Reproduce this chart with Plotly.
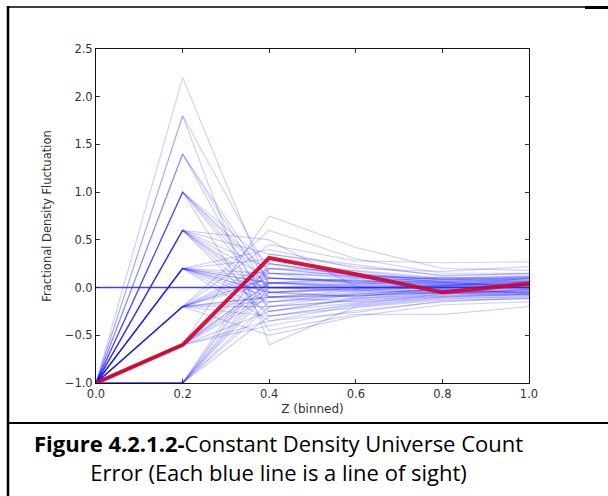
import plotly.graph_objects as go

# Redshift bins
z_bins = [0.0, 0.2, 0.4, 0.6, 0.8, 1.0]

# Fractional density fluctuation per line of sight, one list per bin
z00 = [-1.0] * 70
z02 = [-1.0] * 10 + [-0.6] * 12 + [-0.2] * 14 + [0.2] * 13 + [0.6] * 9 + [1.0] * 6 + [1.4] * 3 + [1.8] * 2 + [2.2]
z04 = [0.05, -0.15, 0.20, -0.30, 0.00, 0.25, -0.05, 0.10, -0.20, 0.35,
       -0.25, 0.05, 0.75, -0.40, 0.15, 0.30, -0.10, -0.05, 0.20, 0.05,
       -0.35, 0.00, 0.25, -0.15, 0.10, -0.10, 0.45, -0.20, 0.05, -0.10,
       0.15, -0.30, 0.60, 0.10, -0.50, 0.20, -0.05, 0.05, -0.15, 0.40,
       0.00, -0.10, 0.30, -0.25, 0.10, -0.05, 0.15, -0.35, 0.05, 0.00,
       -0.10, 0.20, -0.20, 0.10, -0.05, 0.35, -0.30, 0.50, 0.15, -0.45,
       0.00, 0.10, -0.10, 0.25, -0.05, 0.05, -0.25, 0.15, -0.60, 0.00]
z06 = [0.10, -0.06, 0.15, -0.18, 0.02, 0.12, -0.09, 0.05, -0.14, 0.22,
       -0.12, 0.00, 0.42, -0.24, 0.04, 0.17, -0.05, -0.10, 0.11, 0.01,
       -0.19, -0.02, 0.13, -0.08, 0.06, -0.15, 0.28, -0.07, 0.08, -0.03,
       0.15, -0.21, 0.30, 0.07, -0.30, 0.12, -0.01, 0.05, -0.11, 0.20,
       -0.04, -0.09, 0.14, -0.16, 0.06, 0.00, 0.10, -0.26, 0.03, -0.02,
       -0.07, 0.18, -0.13, 0.08, -0.03, 0.24, -0.17, 0.01, 0.11, -0.28,
       0.04, 0.07, -0.08, 0.13, -0.01, 0.02, -0.11, 0.12, -0.20, 0.00]
z08 = [0.04, -0.05, 0.08, -0.10, 0.01, 0.06, -0.03, 0.11, -0.07, 0.13,
       -0.06, 0.02, 0.20, -0.15, 0.05, 0.09, -0.03, 0.00, 0.06, -0.02,
       -0.11, 0.03, 0.10, -0.05, 0.02, -0.09, 0.26, -0.01, 0.05, -0.06,
       0.07, -0.13, 0.15, 0.03, -0.18, 0.09, -0.04, 0.01, -0.08, 0.17,
       0.02, -0.05, 0.06, -0.10, 0.04, -0.01, 0.05, -0.14, 0.08, 0.00,
       -0.02, 0.10, -0.09, 0.02, -0.04, 0.12, -0.07, 0.01, 0.06, -0.28,
       0.00, 0.05, -0.06, 0.08, -0.02, 0.03, -0.05, 0.09, -0.12, 0.01]
z10 = [0.03, -0.04, 0.06, -0.07, 0.10, 0.00, -0.05, 0.08, -0.02, 0.14,
       -0.08, 0.04, 0.18, -0.11, 0.05, 0.11, -0.01, 0.02, 0.09, -0.06,
       -0.10, 0.06, 0.12, -0.03, 0.00, -0.07, 0.27, 0.03, 0.07, -0.05,
       0.10, -0.12, 0.15, 0.05, -0.15, 0.07, -0.02, 0.00, -0.06, 0.22,
       0.06, -0.03, 0.09, -0.08, 0.01, 0.04, 0.02, -0.11, 0.10, -0.01,
       0.00, 0.12, -0.07, 0.05, -0.02, 0.15, -0.05, 0.03, 0.07, -0.20,
       0.01, 0.06, -0.04, 0.10, 0.00, 0.02, -0.06, 0.11, -0.09, 0.04]

zero_line = [0.0, 0.0, 0.0, 0.0, 0.0, 0.0]
highlight = [-1.0, -0.6, 0.31, 0.14, -0.05, 0.04]

y_ticks = [-1.0, -0.5, 0.0, 0.5, 1.0, 1.5, 2.0, 2.5]
y_tick_text = ["\u22121.0", "\u22120.5", "0.0", "0.5", "1.0", "1.5", "2.0", "2.5"]
x_ticks = [0.0, 0.2, 0.4, 0.6, 0.8, 1.0]
x_tick_text = ["0.0", "0.2", "0.4", "0.6", "0.8", "1.0"]

caption = ("<b>Figure 4.2.1.2-</b>Constant Density Universe Count<br>"
           "Error (Each blue line is a line of sight)")

W, H = 608, 496
L, R, T, B = 96, 529, 49, 383


def px(x):
    return (x - L) / (R - L)


def py(y):
    return (B - y) / (B - T)


fig = go.Figure()
for i in range(len(z02)):
    fig.add_trace(go.Scatter(
        x=z_bins, y=[z00[i], z02[i], z04[i], z06[i], z08[i], z10[i]],
        mode="lines", line=dict(color="rgba(20,20,255,0.2)", width=1.2),
        hoverinfo="skip", showlegend=False))

fig.add_trace(go.Scatter(x=z_bins, y=zero_line, mode="lines",
                         line=dict(color="rgba(30,30,255,0.85)", width=1.4),
                         showlegend=False))
fig.add_trace(go.Scatter(x=z_bins, y=highlight, mode="lines",
                         line=dict(color="rgba(215,0,35,0.9)", width=4),
                         showlegend=False))

axis_common = dict(showgrid=False, zeroline=False, showline=True, linecolor="#111",
                   linewidth=1, mirror="ticks", ticks="inside", ticklen=4,
                   tickcolor="#333", tickwidth=1,
                   tickfont=dict(family="DejaVu Sans", size=11.5, color="#333"))

fig.update_xaxes(range=[0, 1.0], tickvals=x_ticks, ticktext=x_tick_text,
                 title=dict(text="Z (binned)", standoff=4,
                            font=dict(family="DejaVu Sans", size=12, color="#333")),
                 **axis_common)
fig.update_yaxes(range=[-1.0, 2.5], tickvals=y_ticks, ticktext=y_tick_text,
                 title=dict(text="Fractional Density Fluctuation", standoff=10,
                            font=dict(family="DejaVu Sans", size=11.5, color="#333")),
                 **axis_common)

shapes = [
    dict(type="line", xref="paper", yref="paper", x0=px(8), x1=px(608), y0=py(7), y1=py(7),
         line=dict(color="black", width=1.5)),
    dict(type="line", xref="paper", yref="paper", x0=px(585), x1=px(608), y0=py(7.5), y1=py(7.5),
         line=dict(color="black", width=3)),
    dict(type="line", xref="paper", yref="paper", x0=px(8), x1=px(8), y0=py(6), y1=py(496),
         line=dict(color="black", width=2.5)),
    dict(type="line", xref="paper", yref="paper", x0=px(8), x1=px(608), y0=py(423), y1=py(423),
         line=dict(color="black", width=2)),
]

fig.update_layout(
    width=W, height=H,
    margin=dict(l=L, r=W - R, t=T, b=H - B),
    paper_bgcolor="white", plot_bgcolor="white",
    shapes=shapes,
    annotations=[dict(text=caption, xref="paper", yref="paper", x=px(278), y=py(457),
                      showarrow=False, xanchor="center", yanchor="middle", align="center",
                      font=dict(family="Open Sans", size=22, color="black"))],
)

fig.write_html("out.html")
